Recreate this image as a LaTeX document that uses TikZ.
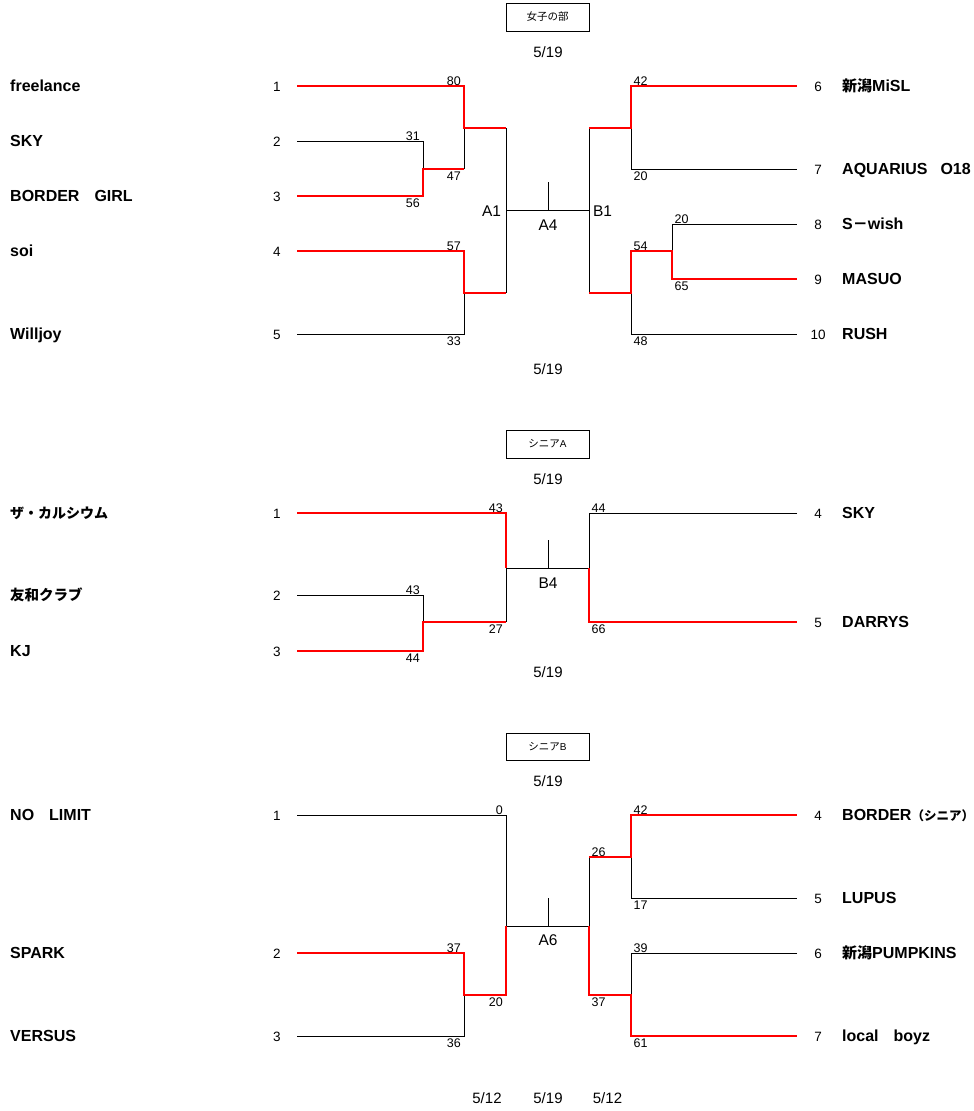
\documentclass[tikz,border=0pt]{standalone}
\usepackage{fontspec}
\setmainfont{Liberation Sans}
\newfontfamily\cjk{Noto Sans CJK JP}
\newcommand\JP[2][15]{{\cjk\bfseries\fontsize{#1}{#1}\selectfont #2}}
\newcommand\JPn[2][10.5]{{\cjk\fontsize{#1}{#1}\selectfont #2}}
\tikzset{
  blk/.style={draw=black, line width=1pt},
  win/.style={draw=red, line width=2pt},
  teamL/.style={anchor=west, inner sep=0pt, text height=11pt, text depth=0pt, font=\fontsize{16}{17}\selectfont\bfseries},
  seedn/.style={inner sep=0pt, text height=10pt, text depth=0pt, font=\fontsize{13.5}{14}\selectfont},
  scoreL/.style={anchor=east, inner sep=0pt, text height=9pt, text depth=0pt, font=\fontsize{12.5}{13}\selectfont},
  scoreR/.style={anchor=west, inner sep=0pt, text height=9pt, text depth=0pt, font=\fontsize{12.5}{13}\selectfont},
  datel/.style={inner sep=0pt, text height=10pt, text depth=0pt, font=\fontsize{15}{16}\selectfont},
  rlab/.style={inner sep=0pt, text height=11pt, text depth=0pt, font=\fontsize{15.5}{16}\selectfont},
  titlebox/.style={draw, line width=1pt, inner sep=0pt, minimum width=83pt, minimum height=28pt},
}
\begin{document}
\begin{tikzpicture}[x=1pt,y=-1pt]
\useasboundingbox[fill=white] (0,0) rectangle (974,1111);

% ================= Section 1 =================
\node[titlebox] (t1) at (547.5,17) {\JPn{女子の部}};
\node[datel] (d1a) at (548,52) {5/19};
\node[datel] (d1b) at (548,369) {5/19};

% brackets (black)
\draw[blk] (297,141) -- (423,141) -- (423,169);
\draw[blk] (464,169) -- (464,128);
\draw[blk] (506,128) -- (506,293);
\draw[blk] (464,293) -- (464,334) -- (297,334);
\draw[blk] (506,210) -- (589,210);
\draw[blk] (548,182) -- (548,210);
\draw[blk] (589,128) -- (589,293);
\draw[blk] (631,128) -- (631,169) -- (797,169);
\draw[blk] (672,251) -- (672,224) -- (797,224);
\draw[blk] (631,293) -- (631,334) -- (797,334);
% winners (red)
\draw[win] (297,86) -- (464,86) -- (464,128) -- (506,128);
\draw[win] (297,196) -- (423,196) -- (423,169) -- (464,169);
\draw[win] (297,251) -- (464,251) -- (464,293) -- (506,293);
\draw[win] (589,128) -- (631,128) -- (631,86) -- (797,86);
\draw[win] (589,293) -- (631,293) -- (631,251) -- (672,251) -- (672,279) -- (797,279);

\node[rlab] (r1a) at (491.5,210.5) {A1};
\node[rlab] (r1b) at (602.5,210.5) {B1};
\node[rlab] (r1c) at (548,224.5) {A4};

\node[teamL] (n11) at (10,86) {freelance};
\node[teamL] (n12) at (10,141) {SKY};
\node[teamL] (n13) at (10,196) {BORDER\JP{　}GIRL};
\node[teamL] (n14) at (10,251) {soi};
\node[teamL] (n15) at (10,334) {Willjoy};
\node[teamL] (n16) at (842,86) {\JP{新潟}MiSL};
\node[teamL] (n17) at (842,169) {AQUARIUS\JP[13]{　}O18};
\node[teamL] (n18) at (842,224) {S\JP{－}wish};
\node[teamL] (n19) at (842,279) {MASUO};
\node[teamL] (n110) at (842,334) {RUSH};

\node[seedn] (s11) at (277,86) {1};
\node[seedn] (s12) at (277,141) {2};
\node[seedn] (s13) at (277,196) {3};
\node[seedn] (s14) at (277,251) {4};
\node[seedn] (s15) at (277,334) {5};
\node[seedn] (s16) at (818,86) {6};
\node[seedn] (s17) at (818,169) {7};
\node[seedn] (s18) at (818,224) {8};
\node[seedn] (s19) at (818,279) {9};
\node[seedn] (s110) at (818,334) {10};

\node[scoreL] (p1a) at (461,80.5) {80};
\node[scoreL] (p1b) at (420,135.5) {31};
\node[scoreL] (p1c) at (461,176) {47};
\node[scoreL] (p1d) at (420,203) {56};
\node[scoreL] (p1e) at (461,245.5) {57};
\node[scoreL] (p1f) at (461,341) {33};
\node[scoreR] (p1g) at (633.5,80.5) {42};
\node[scoreR] (p1h) at (633.5,176) {20};
\node[scoreR] (p1i) at (674.5,218.5) {20};
\node[scoreR] (p1j) at (633.5,245.5) {54};
\node[scoreR] (p1k) at (674.5,286) {65};
\node[scoreR] (p1l) at (633.5,341) {48};

% ================= Section 2 =================
\node[titlebox] (t2) at (547.5,444) {\JPn{シニア}{\fontsize{10}{10}\selectfont A}};
\node[datel] (d2a) at (548,479) {5/19};
\node[datel] (d2b) at (548,672) {5/19};

\draw[blk] (297,595) -- (423,595) -- (423,622);
\draw[blk] (506,568) -- (506,622);
\draw[blk] (506,568) -- (589,568);
\draw[blk] (548,540) -- (548,568);
\draw[blk] (797,513) -- (589,513) -- (589,568);
\draw[win] (297,513) -- (506,513) -- (506,568);
\draw[win] (297,651) -- (423,651) -- (423,622) -- (506,622);
\draw[win] (589,568) -- (589,622) -- (797,622);

\node[rlab] (r2) at (548,582.5) {B4};

\node[teamL] (n21) at (10,513) {\JP[14]{ザ・カルシウム}};
\node[teamL] (n22) at (10,595) {\JP[14.5]{友和クラブ}};
\node[teamL] (n23) at (10,651) {KJ};
\node[teamL] (n24) at (842,513) {SKY};
\node[teamL] (n25) at (842,622) {DARRYS};

\node[seedn] (s21) at (277,513) {1};
\node[seedn] (s22) at (277,595) {2};
\node[seedn] (s23) at (277,651) {3};
\node[seedn] (s24) at (818,513) {4};
\node[seedn] (s25) at (818,622) {5};

\node[scoreL] (p2a) at (503,507.5) {43};
\node[scoreL] (p2b) at (420,589.5) {43};
\node[scoreL] (p2c) at (503,629) {27};
\node[scoreL] (p2d) at (420,658) {44};
\node[scoreR] (p2e) at (591.5,507.5) {44};
\node[scoreR] (p2f) at (591.5,629) {66};

% ================= Section 3 =================
\node[titlebox, minimum height=27pt] (t3) at (547.5,747) {\JPn{シニア}{\fontsize{10}{10}\selectfont B}};
\node[datel] (d3a) at (548,781.5) {5/19};
\node[datel] (d3b) at (487,1098) {5/12};
\node[datel] (d3c) at (548,1098) {5/19};
\node[datel] (d3d) at (607.5,1098) {5/12};

\draw[blk] (297,815) -- (506,815) -- (506,926);
\draw[blk] (506,926) -- (589,926);
\draw[blk] (548,898) -- (548,926);
\draw[blk] (297,1036) -- (464,1036) -- (464,995);
\draw[blk] (589,926) -- (589,857);
\draw[blk] (631,857) -- (631,898) -- (797,898);
\draw[blk] (797,953) -- (631,953) -- (631,995);
\draw[win] (297,953) -- (464,953) -- (464,995) -- (506,995) -- (506,926);
\draw[win] (589,857) -- (631,857) -- (631,815) -- (797,815);
\draw[win] (589,926) -- (589,995) -- (631,995) -- (631,1036) -- (797,1036);

\node[rlab] (r3) at (548,939.5) {A6};

\node[teamL] (n31) at (10,815) {NO\JP{　}LIMIT};
\node[teamL] (n32) at (10,953) {SPARK};
\node[teamL] (n33) at (10,1036) {VERSUS};
\node[teamL] (n34) at (842,815) {BORDER\JP[12.5]{（シニア）}};
\node[teamL] (n35) at (842,898) {LUPUS};
\node[teamL] (n36) at (842,953) {\JP{新潟}PUMPKINS};
\node[teamL] (n37) at (842,1036) {local\JP{　}boyz};

\node[seedn] (s31) at (277,815) {1};
\node[seedn] (s32) at (277,953) {2};
\node[seedn] (s33) at (277,1036) {3};
\node[seedn] (s34) at (818,815) {4};
\node[seedn] (s35) at (818,898) {5};
\node[seedn] (s36) at (818,953) {6};
\node[seedn] (s37) at (818,1036) {7};

\node[scoreL] (p3a) at (503,809.5) {0};
\node[scoreL] (p3b) at (461,947.5) {37};
\node[scoreL] (p3c) at (503,1002) {20};
\node[scoreL] (p3d) at (461,1043) {36};
\node[scoreR] (p3e) at (591.5,851.5) {26};
\node[scoreR] (p3f) at (633.5,809.5) {42};
\node[scoreR] (p3g) at (633.5,905) {17};
\node[scoreR] (p3h) at (633.5,947.5) {39};
\node[scoreR] (p3i) at (591.5,1002) {37};
\node[scoreR] (p3j) at (633.5,1043) {61};
\end{tikzpicture}
\end{document}
